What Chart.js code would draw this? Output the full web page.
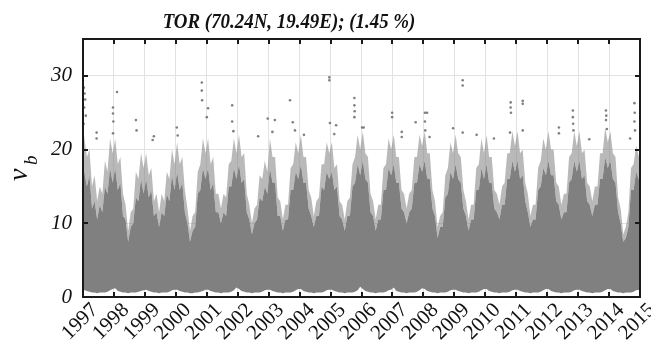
<!DOCTYPE html>
<html lang="en">
<head>
    <meta charset="UTF-8">
    <title>TOR wind speed</title>
    <script src="https://cdn.jsdelivr.net/npm/chart.js@4.4.0/dist/chart.umd.min.js"></script>
    <style>
        html, body { margin: 0; padding: 0; background: #fff; }
    </style>
</head>
<body>

    <canvas id="windChart" width="651" height="361"></canvas>

    <script>

        const titleText = 'TOR (70.24N, 19.49E); (1.45 %)';
        const yearLabels = [1997, 1998, 1999, 2000, 2001, 2002, 2003, 2004, 2005, 2006,
                            2007, 2008, 2009, 2010, 2011, 2012, 2013, 2014, 2015];
        const yTicks = [0, 10, 20, 30];

        // monthly top of the scattered cloud of hourly speeds (Jan..Dec per row)
        const upperByMonth = [
            23, 19, 20, 15, 16.5, 13, 15, 14, 18.5, 17, 21.5, 19.5,            // 1997
            21.5, 18, 19, 14, 12.5, 9, 11.5, 12, 17, 16, 19.5, 17.5,           // 1998
            19.5, 16.5, 17.5, 13, 14, 11.5, 14, 13, 17, 16, 20, 18,            // 1999
            21, 18, 19, 14.5, 12, 9, 11, 11.5, 17, 18, 21.5, 19.5,             // 2000
            21.5, 18, 19, 14, 14, 12, 14, 13.5, 18, 18.5, 21.5, 19.5,          // 2001
            22, 19, 19.5, 14, 12.5, 10, 12, 12.5, 16.5, 16, 18.5, 17,          // 2002
            21.5, 19, 19, 13.5, 13, 10.5, 12.5, 12.5, 17.5, 18, 21, 19.5,      // 2003
            22, 19, 19, 14.5, 13.5, 11, 13, 13.5, 18, 18, 21, 19.5,            // 2004
            21, 17.5, 18, 13, 12.5, 10.5, 13, 13.5, 18, 19, 22, 20,            // 2005
            22.5, 19.5, 19, 14, 13, 10.5, 12.5, 12.5, 17.5, 18, 21.5, 20,      // 2006
            22, 19, 19, 14.5, 14, 12, 14, 14.5, 19, 19, 22, 20.5,              // 2007
            22.5, 19.5, 19.5, 14.5, 13, 9.5, 11, 11.5, 16.5, 17.5, 21, 19.5,   // 2008
            22, 19.5, 19, 14.5, 13, 10.5, 12.5, 12.5, 17.5, 18, 21.5, 19.5,    // 2009
            22, 19, 19, 14.5, 14, 12.5, 15, 15.5, 19.5, 19.5, 22.5, 20.5,      // 2010
            22.5, 19.5, 20, 15.5, 14, 11, 12.5, 12.5, 17.5, 18.5, 21.5, 20,    // 2011
            22.5, 20, 20, 15.5, 15, 12.5, 14, 14, 19, 19.5, 22.5, 20.5,        // 2012
            22.5, 19.5, 20, 15.5, 15, 13, 15, 15, 19.5, 19.5, 23, 21,          // 2013
            22.5, 19.5, 19, 13.5, 12, 8.5, 9.5, 11.5, 17.5, 18, 20.5, 18.5     // 2014
        ];

        // monthly top of the dense body of the cloud
        const solidByMonth = [
            18, 15, 16.5, 12, 13, 10.5, 12.5, 11.5, 15, 14, 17.5, 15.5,        // 1997
            17.5, 14.5, 15.5, 11, 10.5, 7.5, 9.5, 10, 13.5, 13, 16, 14,        // 1998
            16, 13.5, 14.5, 11, 11.5, 9.5, 11.5, 11, 14, 13, 16.5, 14.5,       // 1999
            17, 14.5, 15.5, 11.5, 10, 7.5, 9, 9.5, 14, 14.5, 17.5, 16,         // 2000
            17.5, 14.5, 15.5, 11.5, 11.5, 10, 11.5, 11, 15, 15, 17.5, 16,      // 2001
            18, 15.5, 16, 11.5, 10.5, 8.5, 10, 10.5, 13.5, 13, 15, 14,         // 2002
            17.5, 15.5, 15.5, 11, 11, 9, 10.5, 10.5, 14.5, 14.5, 17, 16,       // 2003
            18, 15.5, 15.5, 12, 11, 9.5, 11, 11, 15, 14.5, 17, 16,             // 2004
            17, 14.5, 15, 11, 10.5, 9, 11, 11, 15, 15.5, 18, 16.5,             // 2005
            18.5, 16, 15.5, 11.5, 11, 9, 10.5, 10.5, 14.5, 14.5, 17.5, 16.5,   // 2006
            18, 15.5, 15.5, 12, 11.5, 10, 11.5, 12, 15.5, 15.5, 18, 17,        // 2007
            18.5, 16, 16, 12, 11, 8, 9.5, 9.5, 13.5, 14, 17, 16,               // 2008
            18, 16, 15.5, 12, 11, 9, 10.5, 10.5, 14.5, 14.5, 17.5, 16,         // 2009
            18, 15.5, 15.5, 12, 11.5, 10.5, 12.5, 12.5, 16, 16, 18.5, 17,      // 2010
            18.5, 16, 16.5, 13, 11.5, 9.5, 10.5, 10.5, 14.5, 15, 17.5, 16.5,   // 2011
            18.5, 16.5, 16.5, 13, 12.5, 10.5, 11.5, 11.5, 15.5, 16, 18.5, 17,  // 2012
            18.5, 16, 16.5, 13, 12.5, 11, 12.5, 12.5, 16, 16, 19, 17.5,        // 2013
            18.5, 16, 15.5, 11.5, 10, 7.5, 8, 9.5, 14.5, 14.5, 17, 15.5        // 2014
        ];

        // monthly lower edge (calm limit)
        const floorByMonth = [
            1.0, 0.8, 0.7, 0.6, 0.6, 0.5, 0.6, 0.6, 0.6, 0.7, 0.9, 1.1,        // 1997
            1.2, 0.8, 0.7, 0.6, 0.6, 0.5, 0.6, 0.6, 0.6, 0.7, 0.8, 0.9,        // 1998
            1.0, 0.8, 0.7, 0.6, 0.6, 0.5, 0.6, 0.6, 0.6, 0.7, 0.9, 1.0,        // 1999
            1.0, 0.8, 0.7, 0.6, 0.6, 0.5, 0.5, 0.6, 0.6, 0.7, 0.8, 1.0,        // 2000
            1.0, 0.8, 0.7, 0.6, 0.6, 0.5, 0.6, 0.6, 0.6, 0.7, 0.9, 1.3,        // 2001
            1.1, 0.8, 0.7, 0.6, 0.6, 0.5, 0.6, 0.6, 0.6, 0.7, 0.9, 1.0,        // 2002
            1.0, 0.8, 0.7, 0.6, 0.6, 0.5, 0.6, 0.6, 0.6, 0.7, 0.9, 1.1,        // 2003
            1.1, 0.8, 0.7, 0.6, 0.6, 0.5, 0.6, 0.6, 0.6, 0.7, 0.9, 1.0,        // 2004
            1.0, 0.8, 0.7, 0.6, 0.6, 0.5, 0.6, 0.6, 0.6, 0.7, 0.9, 1.4,        // 2005
            1.1, 0.8, 0.7, 0.6, 0.6, 0.5, 0.6, 0.6, 0.6, 0.7, 0.9, 1.0,        // 2006
            1.3, 0.8, 0.7, 0.6, 0.6, 0.5, 0.6, 0.6, 0.6, 0.7, 0.9, 1.2,        // 2007
            1.1, 0.8, 0.7, 0.6, 0.6, 0.5, 0.6, 0.6, 0.6, 0.7, 0.9, 1.0,        // 2008
            1.0, 0.8, 0.7, 0.6, 0.6, 0.5, 0.6, 0.6, 0.6, 0.7, 0.9, 1.1,        // 2009
            1.1, 0.8, 0.7, 0.6, 0.6, 0.5, 0.6, 0.6, 0.6, 0.7, 0.9, 1.0,        // 2010
            1.0, 0.8, 0.7, 0.6, 0.6, 0.5, 0.6, 0.6, 0.6, 0.7, 0.9, 1.1,        // 2011
            1.1, 0.8, 0.7, 0.6, 0.6, 0.5, 0.6, 0.6, 0.6, 0.7, 0.9, 1.0,        // 2012
            1.0, 0.8, 0.7, 0.6, 0.6, 0.5, 0.6, 0.6, 0.6, 0.7, 0.9, 1.1,        // 2013
            1.1, 0.8, 0.7, 0.6, 0.6, 0.5, 0.6, 0.6, 0.6, 0.7, 0.9, 1.0         // 2014
        ];

        // isolated gusts above the cloud: [decimal year, speed]
        const outliers = [
            [1997.03, 28.4], [1997.05, 27.6], [1997.07, 26.8], [1997.04, 25.7], [1997.09, 24.6], [1997.02, 23.5],
            [1997.44, 22.3], [1997.44, 21.5],
            [1997.97, 25.7], [1997.97, 24.9], [1997.98, 23.8], [1997.97, 22.2], [1998.10, 27.8],
            [1998.71, 24.0], [1998.73, 22.6], [1999.29, 21.8], [1999.25, 21.3],
            [2000.03, 23.0], [2000.06, 21.9],
            [2000.84, 29.1], [2000.84, 28.0], [2000.85, 26.7], [2001.04, 25.6], [2001.00, 24.4],
            [2001.82, 26.0], [2001.82, 23.8], [2001.86, 22.5],
            [2002.66, 21.8], [2002.97, 24.2], [2003.20, 24.0], [2003.12, 22.4],
            [2003.69, 26.7], [2003.78, 23.7], [2003.85, 22.6], [2004.14, 22.0],
            [2004.96, 29.8], [2004.96, 29.4], [2004.98, 23.6], [2005.18, 23.3], [2005.12, 22.1],
            [2005.77, 27.0], [2005.77, 26.0], [2005.78, 25.2], [2005.77, 24.4], [2006.02, 23.0], [2006.07, 23.0],
            [2006.99, 25.0], [2006.99, 24.4], [2007.30, 22.4], [2007.30, 21.7],
            [2007.75, 23.7], [2008.05, 25.0], [2008.05, 23.8], [2008.06, 22.6], [2008.12, 25.0], [2008.20, 21.7],
            [2008.96, 22.9], [2009.27, 29.4], [2009.27, 28.7], [2009.27, 22.3], [2009.72, 22.0],
            [2010.28, 21.5], [2010.82, 26.4], [2010.82, 25.7], [2010.83, 25.0], [2010.80, 22.3],
            [2011.21, 26.6], [2011.21, 26.2], [2011.21, 22.6],
            [2012.38, 23.0], [2012.38, 22.2], [2012.83, 25.3], [2012.83, 24.4], [2012.84, 23.5], [2012.85, 22.6],
            [2013.36, 21.4], [2013.90, 25.3], [2013.91, 24.6], [2013.90, 24.0], [2013.93, 22.8],
            [2014.68, 21.5], [2014.82, 26.3], [2014.83, 25.0], [2014.82, 23.8], [2014.84, 22.6]
        ];

        const startYear = yearLabels[0];
        const endYear = yearLabels[yearLabels.length - 1];
        const serif = '"Liberation Serif", "Times New Roman", serif';
        const grey = '#808080';

        // month centres, with the first and last pinned to the axis ends
        function monthX(i, n) {
            if (i === 0) return startYear;
            if (i === n - 1) return endYear;
            return startYear + (i + 0.5) / 12;
        }

        function toPoints(values) {
            return values.map((v, i) => ({ x: monthX(i, values.length), y: v }));
        }

        const band = {
            type: 'line',
            pointRadius: 0,
            borderWidth: 0,
            borderColor: 'rgba(0,0,0,0)',
            tension: 0
        };

        // box, inward ticks, title and axis label
        const framePlugin = {
            id: 'frame',
            afterDraw(chart) {
                const ctx = chart.ctx;
                const a = chart.chartArea;
                const xs = chart.scales.x;
                const ys = chart.scales.y;
                ctx.save();
                ctx.strokeStyle = '#1a1a1a';
                ctx.lineWidth = 2;
                ctx.beginPath();
                yearLabels.forEach(yr => {
                    const px = Math.round(xs.getPixelForValue(yr));
                    ctx.moveTo(px, a.bottom); ctx.lineTo(px, a.bottom - 5);
                    ctx.moveTo(px, a.top); ctx.lineTo(px, a.top + 5);
                });
                yTicks.forEach(v => {
                    const py = Math.round(ys.getPixelForValue(v));
                    ctx.moveTo(a.left, py); ctx.lineTo(a.left + 5, py);
                    ctx.moveTo(a.right, py); ctx.lineTo(a.right - 5, py);
                });
                ctx.stroke();
                ctx.strokeRect(a.left, a.top, a.right - a.left, a.bottom - a.top);

                // title, slightly narrowed so it keeps its width at the taller size
                ctx.save();
                ctx.fillStyle = '#111';
                ctx.font = 'italic bold 21px ' + serif;
                ctx.textAlign = 'center';
                ctx.textBaseline = 'alphabetic';
                ctx.translate(289, 28);
                ctx.scale(0.9, 1);
                ctx.fillText(titleText, 0, 0);
                ctx.restore();

                ctx.fillStyle = '#111';
                ctx.translate(27, 181);
                ctx.rotate(-Math.PI / 2);
                ctx.textAlign = 'left';
                ctx.font = 'italic 28px ' + serif;
                ctx.fillText('v', 0, 0);
                ctx.font = 'italic 19px ' + serif;
                ctx.fillText('b', 16, 10);
                ctx.restore();
            }
        };

        const ctx = document.getElementById('windChart').getContext('2d');
        const windChart = new Chart(ctx, {
            type: 'line',
            data: {
                datasets: [
                    Object.assign({ label: 'floor', data: toPoints(floorByMonth), fill: false, order: 3 }, band),
                    Object.assign({ label: 'dense', data: toPoints(solidByMonth), fill: '-1', backgroundColor: grey, order: 2 }, band),
                    Object.assign({ label: 'sparse', data: toPoints(upperByMonth), fill: '-1', backgroundColor: 'rgba(128,128,128,0.55)', order: 1 }, band),
                    {
                        label: 'gusts',
                        type: 'scatter',
                        data: outliers.map(p => ({ x: p[0], y: p[1] })),
                        pointRadius: 1.3,
                        pointBorderWidth: 0,
                        backgroundColor: grey,
                        showLine: false,
                        order: 0
                    }
                ]
            },
            options: {
                responsive: false,
                animation: false,
                devicePixelRatio: 1,
                layout: { padding: { top: 39, right: 11, left: 0, bottom: 0 } },
                plugins: {
                    legend: { display: false },
                    tooltip: { enabled: false },
                    title: { display: false }
                },
                scales: {
                    x: {
                        type: 'linear',
                        min: startYear,
                        max: endYear,
                        afterBuildTicks: s => { s.ticks = yearLabels.map(v => ({ value: v })); },
                        afterFit: s => {
                            s.height = 64;
                            s.paddingLeft = 0;
                            s.paddingRight = 0;
                        },
                        grid: { color: '#e2e2e2', lineWidth: 1, drawTicks: false },
                        border: { display: false },
                        ticks: {
                            autoSkip: false,
                            minRotation: 45,
                            maxRotation: 45,
                            padding: 1,
                            labelOffset: 12,
                            color: '#111',
                            font: { family: serif, size: 21 },
                            callback: v => String(v)
                        }
                    },
                    y: {
                        min: 0,
                        max: 35,
                        afterBuildTicks: s => { s.ticks = yTicks.map(v => ({ value: v })); },
                        afterFit: s => {
                            s.width = 83;
                            s.paddingTop = 0;
                            s.paddingBottom = 0;
                        },
                        grid: { color: '#e2e2e2', lineWidth: 1, drawTicks: false },
                        border: { display: false },
                        ticks: {
                            padding: 11,
                            color: '#111',
                            font: { family: serif, size: 21, style: 'italic' },
                            callback: v => String(v)
                        }
                    }
                }
            },
            plugins: [framePlugin]
        });

    </script>

</body>
</html>
